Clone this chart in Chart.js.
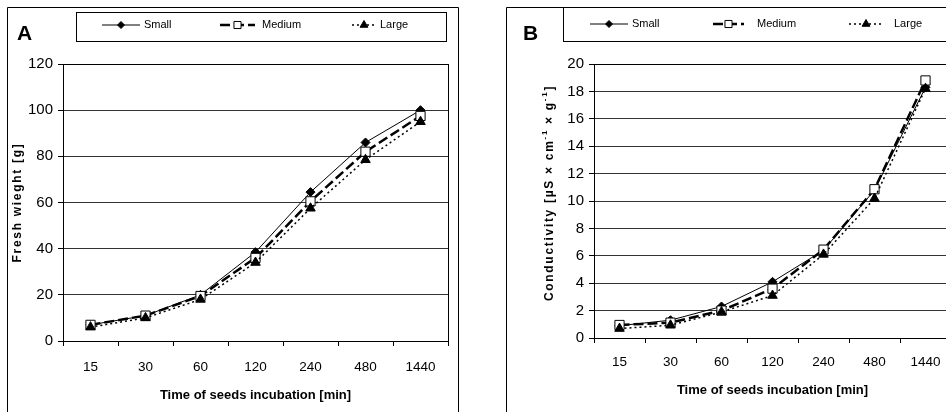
<!DOCTYPE html>
<html>
<head>
<meta charset="utf-8">
<script src="https://cdn.jsdelivr.net/npm/chart.js@4.4.1/dist/chart.umd.min.js"></script>
<style>
  html, body { margin: 0; padding: 0; background: #fff; width: 946px; height: 412px; overflow: hidden; }
  #wrapA { position: absolute; left: 0; top: 0; width: 470px; height: 412px; }
  #wrapB { position: absolute; left: 476px; top: 0; width: 500px; height: 412px; }
</style>
</head>
<body>
<div id="wrapA"><canvas id="chartA" width="470" height="412"></canvas></div>
<div id="wrapB"><canvas id="chartB" width="500" height="412"></canvas></div>
<script>
// DADOS
const incubation = ["15", "30", "60", "120", "240", "480", "1440"];

const weightSmall = [7, 11, 20, 38.5, 64.5, 86, 100];
const weightMedium = [7, 11, 19.5, 36, 60.5, 82, 97.5];
const weightLarge = [6, 10, 18, 34, 57.5, 78.5, 95];

const condSmall = [0.9, 1.3, 2.3, 4.1, 6.4, 10.8, 18.3];
const condMedium = [0.95, 1.12, 2.0, 3.6, 6.45, 10.86, 18.8];
const condLarge = [0.69, 0.93, 1.9, 3.1, 6.1, 10.18, 18.2];

const seriesNames = ["Small", "Medium", "Large"];

const FONT = "'Liberation Sans', Arial, sans-serif";

// decoração: moldura, letra do painel, legenda em caixa, título do eixo y
function drawYTitle(ctx, parts, cx, cy) {
  ctx.save();
  ctx.translate(cx, cy);
  ctx.rotate(-Math.PI / 2);
  ctx.fillStyle = "#000";
  ctx.textBaseline = "middle";
  ctx.letterSpacing = "1.7px";
  const fontOf = (p) => (p.sup ? "bold 8px " : "bold 12px ") + FONT;
  let total = 0;
  parts.forEach((p) => { ctx.font = fontOf(p); total += ctx.measureText(p.text).width; });
  let x = -total / 2;
  parts.forEach((p) => {
    ctx.font = fontOf(p);
    ctx.fillText(p.text, x, p.sup ? -5 : 0);
    x += ctx.measureText(p.text).width;
  });
  ctx.restore();
}

const panelDecor = {
  id: "panelDecor",
  afterDraw(chart, args, o) {
    const ctx = chart.ctx;
    const a = chart.chartArea;
    ctx.save();
    ctx.strokeStyle = "#000";
    ctx.lineWidth = 1;
    ctx.setLineDash([]);

    // borda da área do gráfico
    ctx.strokeRect(Math.round(a.left) + 0.5, Math.round(a.top) + 0.5, Math.round(a.right - a.left), Math.round(a.bottom - a.top));

    // moldura do painel
    ctx.beginPath();
    ctx.moveTo(o.frame.left, 412);
    ctx.lineTo(o.frame.left, o.frame.top);
    ctx.lineTo(o.frame.right, o.frame.top);
    ctx.lineTo(o.frame.right, 412);
    ctx.stroke();

    // caixa da legenda
    ctx.strokeRect(o.box.x, o.box.y, o.box.w, o.box.h);

    // letra do painel
    ctx.fillStyle = "#000";
    ctx.font = "bold 21px " + FONT;
    ctx.textBaseline = "alphabetic";
    ctx.fillText(o.letter, o.letterX, 40);

    // itens da legenda
    ctx.font = "11px " + FONT;
    ctx.textBaseline = "middle";
    o.items.forEach((it, i) => {
      const ds = chart.data.datasets[i];
      ctx.strokeStyle = "#000";
      ctx.lineWidth = ds.borderWidth;
      ctx.setLineDash(ds.borderDash || []);
      ctx.beginPath();
      ctx.moveTo(it.x1, o.legendY);
      ctx.lineTo(it.x2, o.legendY);
      ctx.stroke();
      ctx.setLineDash([]);
      ctx.fillStyle = ds.pointBackgroundColor;
      ctx.strokeStyle = ds.pointBorderColor;
      ctx.lineWidth = 1;
      Chart.helpers.drawPoint(ctx, { pointStyle: ds.pointStyle, radius: it.r, borderWidth: 1, rotation: 0 }, it.m, o.legendY);
      ctx.fillStyle = "#000";
      ctx.fillText(ds.label, it.t, o.legendY);
    });

    drawYTitle(ctx, o.yTitle, o.yTitleX, (a.top + a.bottom) / 2 + (o.yTitleShift || 0));
    ctx.restore();
  },
};

function makeSets(small, medium, large) {
  return [
    {
      label: seriesNames[0], data: small, borderColor: "#000", borderWidth: 1,
      pointStyle: "rectRot", pointRadius: 4.5, pointBackgroundColor: "#000", pointBorderColor: "#000",
      pointBorderWidth: 1, order: 3,
    },
    {
      label: seriesNames[1], data: medium, borderColor: "#000", borderWidth: 2.5, borderDash: [10, 4],
      pointStyle: "rect", pointRadius: 6.5, pointBackgroundColor: "#fff", pointBorderColor: "#000",
      pointBorderWidth: 1, order: 2,
    },
    {
      label: seriesNames[2], data: large, borderColor: "#000", borderWidth: 1.5, borderDash: [2, 3],
      pointStyle: "triangle", pointRadius: 5.5, pointBackgroundColor: "#000", pointBorderColor: "#000",
      pointBorderWidth: 1, order: 1,
    },
  ];
}

function makeScales(yMax, yStep, yWidth, xHeight, tickPad, titlePad) {
  return {
    x: {
      offset: true,
      grid: { offset: true, drawOnChartArea: false, tickLength: 5, tickColor: "#000" },
      border: { color: "#000", width: 1 },
      ticks: { color: "#000", font: { family: FONT, size: 13.5 }, padding: tickPad, maxRotation: 0, autoSkip: false },
      title: {
        display: true, text: "Time of seeds incubation [min]", color: "#000",
        font: { family: FONT, size: 13, weight: "bold" }, padding: { top: 0, bottom: titlePad },
      },
      afterFit(scale) { scale.height = xHeight; },
    },
    y: {
      min: 0, max: yMax,
      grid: { color: "#333", tickLength: 5, tickColor: "#000" },
      border: { color: "#000", width: 1 },
      ticks: { stepSize: yStep, color: "#000", font: { family: FONT, size: 15 }, padding: 5 },
      afterFit(scale) { scale.width = yWidth; },
    },
  };
}

function makeChart(el, sets, scales, padding, decor) {
  return new Chart(el, {
    type: "line",
    data: { labels: incubation, datasets: sets },
    options: {
      responsive: false,
      devicePixelRatio: 1,
      animation: false,
      layout: { padding },
      scales,
      plugins: { legend: { display: false }, tooltip: { enabled: false }, panelDecor: decor },
    },
    plugins: [panelDecor],
  });
}

// PAINEL A
makeChart(
  document.getElementById("chartA"),
  makeSets(weightSmall, weightMedium, weightLarge),
  makeScales(120, 20, 63, 71, 13, 9),
  { top: 64, right: 22, left: 0, bottom: 0 },
  {
    letter: "A", letterX: 17,
    frame: { left: 7.5, top: 7.5, right: 458.5 },
    box: { x: 76.5, y: 12.5, w: 370, h: 29 },
    legendY: 25,
    items: [
      { x1: 102, x2: 140, m: 121, r: 3.5, t: 144 },
      { x1: 220, x2: 255, m: 237.5, r: 5, t: 262 },
      { x1: 352, x2: 376, m: 364, r: 4.5, t: 380 },
    ],
    yTitle: [{ text: "Fresh wieght [g]" }],
    yTitleX: 18,
  }
);

// PAINEL B
makeChart(
  document.getElementById("chartB"),
  makeSets(condSmall, condMedium, condLarge),
  makeScales(20, 2, 118, 74, 11, 14),
  { top: 64, right: 25, left: 0, bottom: 0 },
  {
    letter: "B", letterX: 47,
    frame: { left: 30.5, top: 7.5, right: 520 },
    box: { x: 87.5, y: 7.5, w: 430, h: 34 },
    legendY: 24,
    items: [
      { x1: 114, x2: 152, m: 133, r: 3.5, t: 156 },
      { x1: 237, x2: 268, m: 252.5, r: 5, t: 281 },
      { x1: 373, x2: 405, m: 390, r: 4.5, t: 418 },
    ],
    yTitle: [
      { text: "Conductivity [µS × cm" }, { text: "-1", sup: true },
      { text: " × g" }, { text: "-1", sup: true }, { text: "]" },
    ],
    yTitleX: 74,
    yTitleShift: -8,
  }
);
</script>
</body>
</html>
